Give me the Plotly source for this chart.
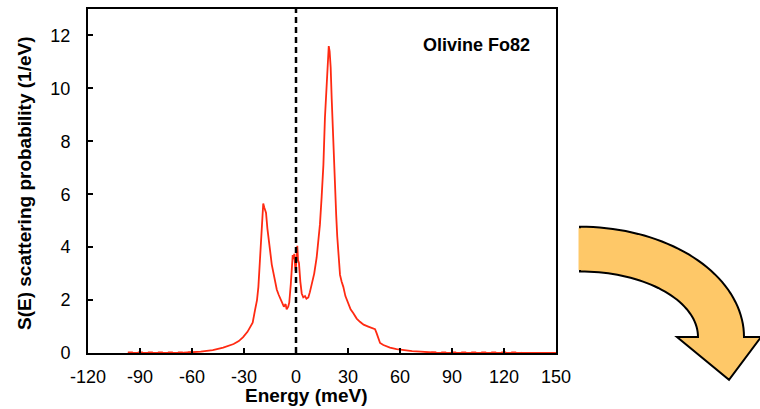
import numpy as np
import plotly.graph_objects as go

# ---- data ----
energy = [-97, -80, -65, -55, -48, -42, -38, -36, -33, -30.5, -28, -26.5, -25, -23.7, -22.5,
          -21.7, -21, -20.2, -19.5, -18.9, -18.3, -17.3, -16.5, -16.0, -15, -14.0, -12.5, -11.1,
          -10, -8.3, -7, -6, -5.4, -4.5, -3.9, -3, -2.4, -1.9, -1.4, -1.0, -0.5, -0.2, 0.3, 0.75,
          1.2, 1.7, 2.5, 3.3, 4.2, 5.2, 6.0, 7.1, 8, 9.0, 10.5, 11.9, 13, 13.8, 14.8, 15.8, 16.7,
          17.4, 18.1, 18.9, 19.4, 20.0, 20.6, 21.2, 21.8, 22.5, 23.2, 23.8, 24.6, 25.4, 26.3,
          27.3, 28.5, 30.2, 31.5, 33.1, 35, 36.9, 39, 41.7, 43.5, 45.6, 46.5, 47.5, 48.5, 50.4,
          54.2, 58, 62, 67, 72, 81, 90, 110, 130, 150]
s_prob = [0.0, 0.0, 0.01, 0.05, 0.11, 0.2, 0.3, 0.34, 0.45, 0.6, 0.8, 1.0, 1.15, 1.6, 2.0,
          2.5, 3.2, 4.25, 5.0, 5.65, 5.5, 5.3, 4.7, 4.35, 3.9, 3.35, 2.8, 2.4,
          2.2, 1.9, 1.75, 1.85, 1.65, 1.75, 1.9, 2.6, 3.4, 3.7, 3.55, 3.75, 3.3, 3.1, 3.6, 4.05,
          3.5, 3.4, 2.7, 2.25, 2.1, 2.15, 2.05, 2.1, 2.3, 2.6, 3.0, 3.6, 4.2, 4.85, 5.9, 7.1, 8.9,
          9.8, 10.9, 11.6, 11.4, 10.8, 9.6, 8.4, 7.2, 6.1, 5.2, 4.4, 3.5, 2.95, 2.7,
          2.5, 2.15, 1.85, 1.65, 1.5, 1.3, 1.18, 1.07, 1.0, 0.95, 0.9, 0.75, 0.55, 0.38, 0.3,
          0.2, 0.15, 0.11, 0.07, 0.05, 0.01, 0.0, 0.0, 0.0, 0.0]

# low-level tails lying on the energy axis (drawn dashed in the reference)
tail_left_e = [-97, -58]
tail_right_e = [78, 130]
tail_s = [0.0, 0.0]

x_ticks = [-120, -90, -60, -30, 0, 30, 60, 90, 120, 150]
y_ticks = [0, 2, 4, 6, 8, 10, 12]
sample_label = "Olivine Fo82"

RED = "#ff2a12"
FONT = "Liberation Sans, Arial, Helvetica, sans-serif"

fig = go.Figure()
fig.add_trace(go.Scatter(x=energy, y=s_prob, mode="lines",
                         line=dict(color=RED, width=1.8), hoverinfo="skip",
                         showlegend=False))
for te in (tail_left_e, tail_right_e):
    fig.add_trace(go.Scatter(x=te, y=tail_s, mode="lines",
                             line=dict(color=RED, width=3, dash="5px,5px"),
                             hoverinfo="skip", showlegend=False, cliponaxis=False))

# vertical dashed line at E = 0
fig.add_shape(type="line", x0=0, x1=0, y0=0, y1=13, xref="x", yref="y",
              line=dict(color="black", width=2.5, dash="6px,4px"))

# geometry of the plot area in pixels
W, H = 760, 409
L, R, T, B = 88, 556, 7, 353


def px2paper(px, py):
    return (px - L) / (R - L), (B - py) / (B - T)


# decorative curved arrow (quarter-ellipse band with arrowhead)
cx, cy = 580, 337
outer = [(cx + 164 * np.cos(t), cy - 111 * np.sin(t)) for t in np.linspace(np.pi / 2, 0, 40)]
inner = [(cx + 118 * np.cos(t), cy - 66 * np.sin(t)) for t in np.linspace(0, np.pi / 2, 40)]
pts = outer + [(761, 337), (729, 380), (677, 337)] + inner
path = ""
for i, (a, b) in enumerate(pts):
    u, v = px2paper(a, b)
    path += ("M" if i == 0 else "L") + f"{u:.4f},{v:.4f} "
path += "Z"
fig.add_shape(type="path", path=path, xref="paper", yref="paper",
              fillcolor="#fec868", line=dict(color="black", width=2), layer="above")
# cover the left outline of the band (no stroke on the cut end)
u0, v0 = px2paper(580, 227.5)
u1, v1 = px2paper(580, 269.5)
fig.add_shape(type="line", xref="paper", yref="paper", x0=u0, x1=u1, y0=v0, y1=v1,
              line=dict(color="#fec868", width=3), layer="above")

fig.add_annotation(text=f"<b>{sample_label}</b>", xref="paper", yref="paper",
                   x=(476 - L) / (R - L), y=(B - 43) / (B - T), showarrow=False,
                   xanchor="center", yanchor="middle",
                   font=dict(family=FONT, size=18, color="black"))
fig.add_annotation(text="<b>Energy (meV)</b>", xref="paper", yref="paper",
                   x=(306 - L) / (R - L), y=(B - 396) / (B - T), showarrow=False,
                   xanchor="center", yanchor="middle",
                   font=dict(family=FONT, size=19, color="black"))
fig.add_annotation(text="<b>S(E) scattering probability (1/eV)</b>", xref="paper", yref="paper",
                   x=(25 - L) / (R - L), y=(B - 182) / (B - T), showarrow=False, textangle=-90,
                   xanchor="center", yanchor="middle",
                   font=dict(family=FONT, size=19, color="black"))

fig.update_layout(
    width=W, height=H,
    margin=dict(l=L, r=W - R, t=T, b=H - B, pad=0),
    paper_bgcolor="white", plot_bgcolor="white",
    font=dict(family=FONT, color="black"),
    xaxis=dict(range=[-120, 150], tickvals=x_ticks, ticktext=[str(v) for v in x_ticks],
               ticks="inside", ticklen=5, tickwidth=2, tickcolor="black",
               showline=True, linecolor="black", linewidth=2, mirror=True,
               showgrid=False, zeroline=False, tickfont=dict(size=18),
               ticklabelstandoff=6),
    yaxis=dict(range=[0, 13], tickvals=y_ticks, ticktext=[str(v) for v in y_ticks],
               ticks="inside", ticklen=5, tickwidth=2, tickcolor="black",
               showline=True, linecolor="black", linewidth=2, mirror=True,
               showgrid=False, zeroline=False, tickfont=dict(size=18),
               ticklabelstandoff=12),
)

fig.write_html("out.html")
